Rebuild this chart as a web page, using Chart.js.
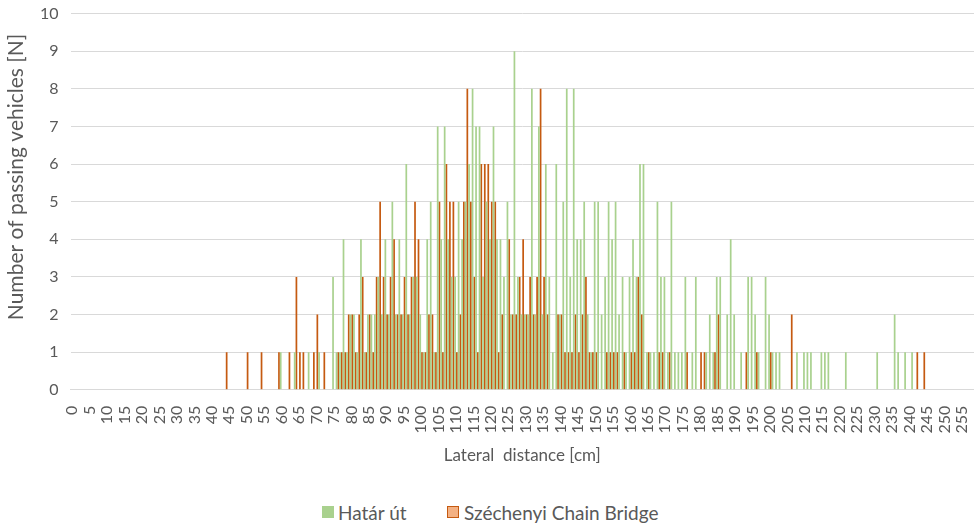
<!DOCTYPE html>
<html>
<head>
<meta charset="utf-8">
<script src="https://cdn.jsdelivr.net/npm/chart.js@4.4.1/dist/chart.umd.min.js"></script>
<style>
  body { margin: 0; background: #fff; }
  #wrap { position: relative; width: 976px; height: 528px; overflow: hidden; }
  #chart { position: absolute; left: -12px; top: -8px; }
  .item { position: absolute; top: 501px; font: 19px Lato, sans-serif; color: #595959; line-height: 23px; white-space: nowrap; }
  .box { position: absolute; top: 506px; width: 12px; height: 12px; box-sizing: border-box; }
</style>
</head>
<body>
<div id="wrap">
  <canvas id="chart" width="1001" height="474"></canvas>
</div>
<script>
// lateral distance categories, 0..258 cm, a label every 5 cm
const distances = Array.from({ length: 259 }, (_, i) => i);
const tickStep = 5;

const seriesNames = ["Határ út", "Széchenyi Chain Bridge"];

// Határ út, counts per cm (rows of 20, starting at 0, 20, 40 ...)
const hatarUt = [
  0,0,0,0,0,0,0,0,0,0,0,0,0,0,0,0,0,0,0,0,
  0,0,0,0,0,0,0,0,0,0,0,0,0,0,0,0,0,0,0,0,
  0,0,0,0,0,0,0,0,0,0,0,0,0,0,0,0,0,0,0,0,
  1,0,0,0,1,0,0,0,1,0,0,1,0,0,0,3,1,1,4,1,
  2,2,1,4,1,2,2,2,3,2,4,2,5,2,4,2,6,2,3,3,
  2,1,4,5,1,7,4,7,4,3,3,5,4,5,6,8,7,7,3,5,
  4,7,4,4,3,5,2,9,3,2,2,2,8,2,7,2,6,3,1,6,
  2,5,8,3,8,4,4,5,2,1,5,5,2,3,5,4,5,2,3,1,
  3,4,3,6,6,1,1,1,5,3,3,1,5,1,1,1,3,0,1,3,
  0,0,1,2,1,3,3,0,2,4,2,0,1,0,3,3,2,1,0,3,
  2,1,1,1,0,0,0,0,1,0,1,1,1,0,0,1,1,1,0,0,
  0,0,1,0,0,0,0,0,0,0,0,1,0,0,0,0,2,1,0,1,
  0,1,0,0,0,0,0,0,0,0,0,0,0,0,0,0,0,0,0
];

// Széchenyi Chain Bridge, counts per cm
const chainBridge = [
  0,0,0,0,0,0,0,0,0,0,0,0,0,0,0,0,0,0,0,0,
  0,0,0,0,0,0,0,0,0,0,0,0,0,0,0,0,0,0,0,0,
  0,0,0,0,1,0,0,0,0,0,1,0,0,0,1,0,0,0,0,1,
  0,0,1,0,3,1,1,0,0,1,2,0,1,0,0,0,1,1,1,2,
  2,1,2,3,1,2,1,3,5,3,2,3,4,2,2,3,2,3,5,4,
  1,1,2,2,1,5,1,6,5,5,1,2,5,8,5,3,1,6,6,6,
  5,5,1,2,0,4,2,2,3,4,2,3,2,3,8,3,2,0,0,2,
  2,1,1,1,2,1,2,3,1,1,1,0,0,1,1,1,1,0,1,0,
  1,1,3,2,0,1,0,0,1,1,0,1,0,0,0,0,1,0,0,0,
  1,1,0,0,1,2,0,0,0,0,0,0,0,1,0,0,1,0,0,0,
  1,0,0,0,0,0,2,0,0,0,0,0,0,0,0,0,0,0,0,0,
  0,0,0,0,0,0,0,0,0,0,0,0,0,0,0,0,0,0,0,0,
  0,0,1,0,1,0,0,0,0,0,0,0,0,0,0,0,0,0,0
];

const font = "Lato, 'Open Sans', sans-serif";
const textColor = "#595959";
const gridColor = "#d9d9d9";
const green = "#A9D18E";
const orange = "#C55A11";
const orangeLight = "#F4B183";

// y axis title, placed like the original (not centred on the plot)
const yTitle = {
  id: "yTitle",
  afterDraw(chart) {
    const ctx = chart.ctx;
    ctx.save();
    ctx.translate(28, 185);
    ctx.rotate(-Math.PI / 2);
    ctx.font = "21px " + font;
    ctx.fillStyle = textColor;
    ctx.textAlign = "center";
    ctx.textBaseline = "middle";
    ctx.fillText("Number of passing vehicles [N]", 0, 0);
    ctx.restore();
  }
};

new Chart(document.getElementById("chart"), {
  type: "bar",
  data: {
    labels: distances,
    datasets: [
      { label: seriesNames[0], data: hatarUt, backgroundColor: green, barPercentage: 0.98, categoryPercentage: 1.0 },
      { label: seriesNames[1], data: chainBridge, backgroundColor: orange, barPercentage: 0.98, categoryPercentage: 1.0 }
    ]
  },
  options: {
    responsive: false,
    animation: false,
    layout: { padding: { left: 40, right: 1, top: 3, bottom: 0 } },
    plugins: { legend: { display: false }, tooltip: { enabled: false } },
    scales: {
      x: {
        grid: { display: false },
        border: { display: true, color: gridColor },
        ticks: {
          autoSkip: false,
          minRotation: 90,
          maxRotation: 90,
          padding: 8,
          color: textColor,
          font: { family: font, size: 16 },
          callback: (v, i) => (i % tickStep === 0 ? String(distances[i]) : null)
        },
        title: {
          display: true,
          text: "Lateral  distance [cm]",
          color: textColor,
          font: { family: font, size: 17 },
          padding: { top: 4, bottom: 0 }
        }
      },
      y: {
        min: 0,
        max: 10,
        ticks: { stepSize: 1, padding: 12, color: textColor, font: { family: font, size: 16 } },
        grid: { color: gridColor, drawTicks: false },
        border: { display: false }
      }
    }
  },
  plugins: [yTitle]
});

// legend below the chart, at the original spots
const wrap = document.getElementById("wrap");
[[green, green, 322, 338], [orangeLight, orange, 447, 464]].forEach(([fill, edge, boxX, textX], i) => {
  const box = document.createElement("span");
  box.className = "box";
  box.style.left = boxX + "px";
  box.style.background = fill;
  box.style.border = "1px solid " + edge;
  wrap.appendChild(box);
  const text = document.createElement("span");
  text.className = "item";
  text.style.left = textX + "px";
  text.textContent = seriesNames[i];
  wrap.appendChild(text);
});
</script>
</body>
</html>
